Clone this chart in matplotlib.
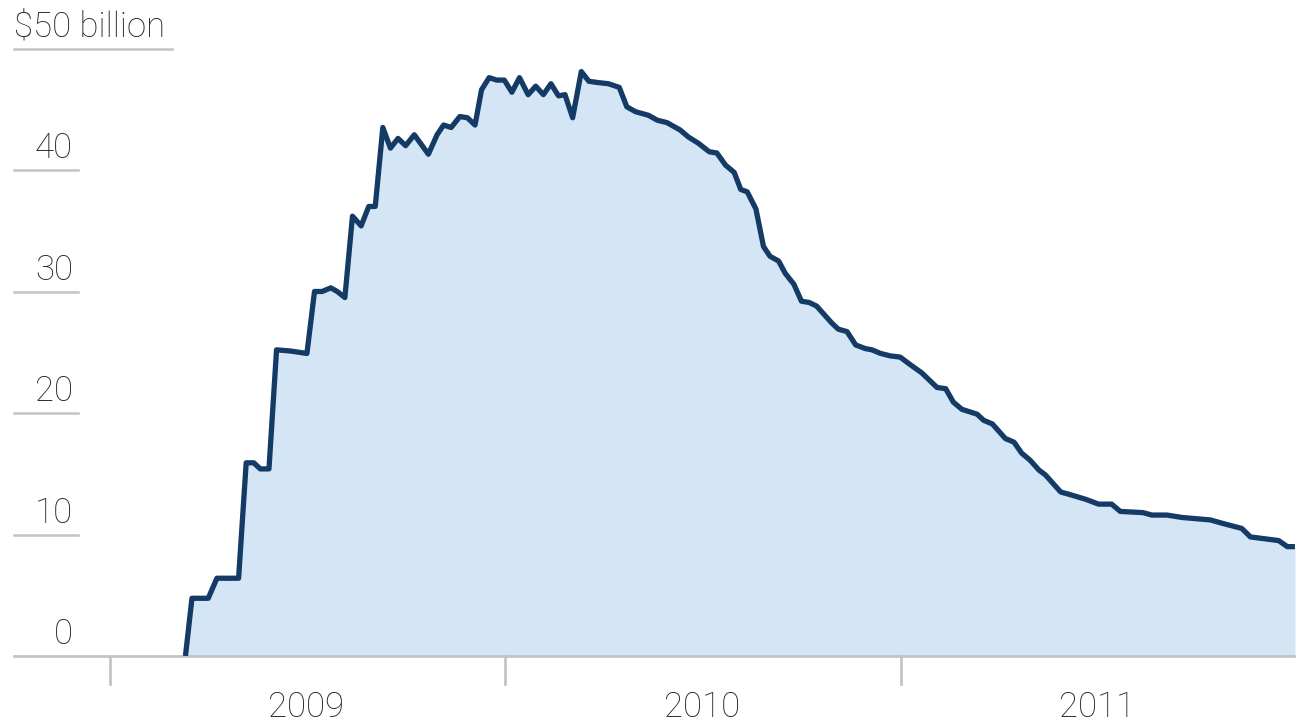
import matplotlib
matplotlib.use("Agg")
import matplotlib.pyplot as plt
import matplotlib.transforms as mtransforms
import datetime as dt

# weekly-ish readings, $ billion
dates = [
    "2009-03-12", "2009-03-18", "2009-04-02", "2009-04-10", "2009-04-30", "2009-05-07",
    "2009-05-14", "2009-05-20", "2009-05-28", "2009-06-04", "2009-06-17", "2009-07-02",
    "2009-07-09", "2009-07-16", "2009-07-24", "2009-07-30", "2009-08-06", "2009-08-13",
    "2009-08-21", "2009-08-28", "2009-09-03", "2009-09-10", "2009-09-17", "2009-09-24",
    "2009-10-01", "2009-10-09", "2009-10-22", "2009-10-30", "2009-11-05", "2009-11-12",
    "2009-11-20", "2009-11-27", "2009-12-04", "2009-12-10", "2009-12-17", "2009-12-24",
    "2009-12-31", "2010-01-07", "2010-01-14", "2010-01-22", "2010-01-29", "2010-02-05",
    "2010-02-12", "2010-02-19", "2010-02-25", "2010-03-04", "2010-03-12", "2010-03-19",
    "2010-03-27", "2010-04-06", "2010-04-16", "2010-04-23", "2010-05-01", "2010-05-13",
    "2010-05-21", "2010-05-30", "2010-06-11", "2010-06-19", "2010-06-28", "2010-07-08",
    "2010-07-15", "2010-07-23", "2010-07-31", "2010-08-06", "2010-08-12", "2010-08-20",
    "2010-08-27", "2010-09-02", "2010-09-10", "2010-09-16", "2010-09-24", "2010-10-01",
    "2010-10-08", "2010-10-15", "2010-10-29", "2010-11-04", "2010-11-12", "2010-11-20",
    "2010-11-29", "2010-12-05", "2010-12-13", "2010-12-22", "2010-12-31", "2011-01-09",
    "2011-01-20", "2011-02-03", "2011-02-11", "2011-02-18", "2011-02-26", "2011-03-12",
    "2011-03-18", "2011-03-26", "2011-04-07", "2011-04-15", "2011-04-22", "2011-04-30",
    "2011-05-08", "2011-05-14", "2011-05-28", "2011-06-05", "2011-06-20", "2011-07-02",
    "2011-07-14", "2011-07-22", "2011-08-12", "2011-08-20", "2011-09-03", "2011-09-17",
    "2011-10-13", "2011-10-25", "2011-11-11", "2011-11-19", "2011-12-15", "2011-12-23",
    "2011-12-30",
]
values = [
    0.0, 4.75, 4.75, 6.4, 6.4, 15.9,
    15.9, 15.4, 15.4, 25.2, 25.1, 24.9,
    30.0, 30.0, 30.3, 30.0, 29.5, 36.2,
    35.4, 37.0, 37.0, 43.5, 41.8, 42.6,
    42.0, 42.9, 41.3, 42.9, 43.7, 43.5,
    44.4, 44.3, 43.7, 46.6, 47.6, 47.4,
    47.4, 46.4, 47.6, 46.2, 46.9, 46.2,
    47.1, 46.1, 46.2, 44.3, 48.1, 47.3,
    47.2, 47.1, 46.8, 45.2, 44.8, 44.5,
    44.1, 43.9, 43.3, 42.7, 42.2, 41.5,
    41.4, 40.4, 39.8, 38.4, 38.2, 36.8,
    33.7, 32.9, 32.5, 31.5, 30.6, 29.2,
    29.1, 28.8, 27.4, 26.9, 26.7, 25.6,
    25.3, 25.2, 24.9, 24.7, 24.6, 24.0,
    23.3, 22.1, 22.0, 20.9, 20.3, 19.9,
    19.4, 19.1, 17.9, 17.6, 16.7, 16.1,
    15.3, 14.9, 13.5, 13.3, 12.9, 12.5,
    12.5, 11.9, 11.8, 11.6, 11.6, 11.4,
    11.2, 10.9, 10.5, 9.8, 9.5, 9.0,
    9.0,
]
y_ticks = [0, 10, 20, 30, 40, 50]
y_labels = ["0", "10", "20", "30", "40", "$50 billion"]
years = [2009, 2010, 2011]

x = [dt.datetime.strptime(d, "%Y-%m-%d") for d in dates]

W, H = 1296, 724
fig = plt.figure(figsize=(W / 100, H / 100), dpi=100)
ax = fig.add_axes([0, 68 / H, 1, (656 - 48.5) / H])
ax.set_xlim(dt.datetime(2008, 9, 22), dt.datetime(2011, 12, 31))
ax.set_ylim(0, 50)
ax.axis("off")

font = dict(family=["Roboto", "DejaVu Sans"], fontweight="light", color="#262626", fontsize=25)
grey = "#c4c4c6"
bt = mtransforms.blended_transform_factory(ax.transAxes, ax.transData)

ax.fill_between(x, values, 0, color="#d4e5f5", lw=0, zorder=1)
ax.plot(x, values, color="#143a66", lw=3.8, solid_joinstyle="round",
        solid_capstyle="butt", zorder=3)

# baseline and short gridlines
ax.plot([14 / W, 1], [0, 0], color=grey, lw=2, transform=bt, clip_on=False, zorder=2)
for v, lab in zip(y_ticks, y_labels):
    if v == 0:
        ax.text(73 / W, v + 0.95, lab, transform=bt, ha="right", va="baseline", **font)
        continue
    if v == 50:
        ax.plot([14 / W, 172 / W], [v, v], color=grey, lw=1.8, transform=bt, clip_on=False)
        ax.text(14 / W, v + 1.0, lab, transform=bt, ha="left", va="baseline", **font)
    else:
        ax.plot([14 / W, 78 / W], [v, v], color=grey, lw=1.8, transform=bt, clip_on=False)
        ax.text(73 / W, v + 0.95, lab, transform=bt, ha="right", va="baseline", **font)

# year ticks and labels
for yr in years + [2012]:
    ax.plot([dt.datetime(yr, 1, 1)] * 2, [0, -2.3], color=grey, lw=2, clip_on=False, zorder=2)
for yr in years:
    ax.text(dt.datetime(yr, 7, 1), -5.0, str(yr), ha="center", va="baseline", **font)

plt.savefig("out.png", dpi=100)
